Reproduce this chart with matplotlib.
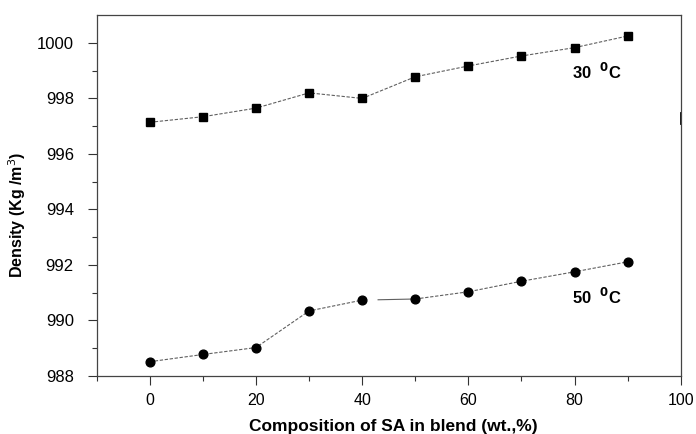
import numpy as np
from matplotlib import pyplot as plt

plt.rcParams['font.family'] = ['Liberation Sans', 'DejaVu Sans']

composition = [0, 10, 20, 30, 40, 50, 60, 70, 80, 90]
density_30 = [997.14, 997.34, 997.65, 998.20, 998.00, 998.78, 999.17, 999.53, 999.83, 1000.25]
density_50 = [988.51, 988.77, 989.02, 990.34, 990.73, 990.77, 991.03, 991.41, 991.75, 992.11]

xticks = [0, 20, 40, 60, 80, 100]
yticks = [988, 990, 992, 994, 996, 998, 1000]

line_kw = dict(color='#606060', lw=0.8, dashes=(3, 1.5))

fig = plt.figure(figsize=(6.96, 4.34), dpi=100)
ax = fig.add_axes([0.139, 0.134, 0.839, 0.831])

# 30 C series
ax.plot(composition, density_30, **line_kw)
ax.plot(composition, density_30, ls='none', marker='s', ms=6, color='black')

# 50 C series, the 40-50 link is drawn as a short solid piece with a gap
x50 = np.array(composition, dtype=float)
y50 = np.array(density_50)
ax.plot(x50[:5], y50[:5], **line_kw)
ax.plot(x50[5:], y50[5:], **line_kw)
frac = 0.3
ax.plot([x50[4] + frac * (x50[5] - x50[4]), x50[5]],
        [y50[4] + frac * (y50[5] - y50[4]), y50[5]], color='#606060', lw=0.8)
ax.plot(composition, density_50, ls='none', marker='o', ms=6.3, color='black')

ax.text(79.6, 998.95, r'30  $^{\mathbf{0}}$C', fontsize=12, fontweight='bold', va='center')
ax.text(79.6, 990.85, r'50  $^{\mathbf{0}}$C', fontsize=12, fontweight='bold', va='center')

ax.set_xlim(-10, 100)
ax.set_ylim(988, 1001)
ax.set_xticks(xticks)
ax.set_yticks(yticks)
ax.set_xticks(np.arange(-10, 100, 20), minor=True)
ax.set_yticks(np.arange(989, 1001, 2), minor=True)
ax.tick_params(which='major', direction='out', length=6.5, width=0.8, labelsize=11.5,
               color='#333333', pad=6)
ax.tick_params(axis='y', which='major', labelsize=12, pad=10)
ax.tick_params(which='minor', direction='out', length=3.6, width=0.8, color='#333333')

for s in ax.spines.values():
    s.set_color('#444444')
    s.set_linewidth(0.9)

# small thick mark on the right frame
ax.axvline(100, ymin=0.70, ymax=0.73, color='black', lw=2)

ax.set_xlabel('Composition of SA in blend (wt.,%)', fontsize=12.5, fontweight='bold')
ax.set_ylabel(r'Density (Kg /m$^{3}$)', fontsize=11.5, fontweight='bold')
ax.xaxis.set_label_coords(0.508, -0.119)
ax.yaxis.set_label_coords(-0.118, 0.446)

fig.savefig('out.png', dpi=100)
